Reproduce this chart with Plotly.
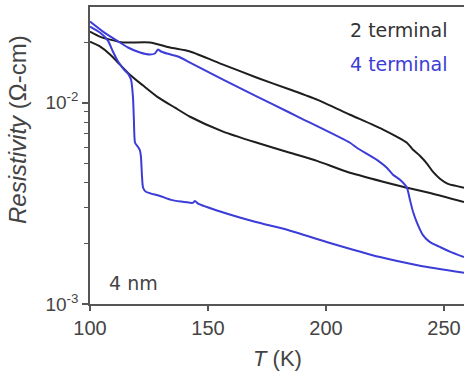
import plotly.graph_objects as go

# ---- data ----
T_2t_a = [100, 104.2, 108.5, 114.0, 125.4, 133.9, 142.4, 156.4, 170.8, 184.7, 196.2, 210.2,
          224.2, 234.3, 236.9, 239.8, 242.8, 245.3, 248.3, 251.7, 255.1, 258.5]
R_2t_a = [0.02254, 0.02128, 0.02056, 0.01991, 0.01991, 0.01879, 0.01795, 0.01545, 0.01330,
          0.01162, 0.01035, 0.00871, 0.00735, 0.00632, 0.00583, 0.00545, 0.00498, 0.00454,
          0.00419, 0.00395, 0.00386, 0.00378]

T_2t_b = [100, 104.2, 108.5, 112.7, 116.9, 122.5, 128.4, 136.0, 142.4, 156.4, 170.8, 184.7,
          196.2, 208.9, 224.2, 232.6, 244.1, 258.5]
R_2t_b = [0.02009, 0.01901, 0.01734, 0.01545, 0.01377, 0.01216, 0.01072, 0.00944, 0.00851,
          0.00718, 0.00632, 0.00564, 0.00514, 0.00454, 0.00405, 0.00382, 0.00356, 0.00321]

T_4t_a = [100, 105.5, 111.4, 116.1, 121.2, 125.4, 127.5, 128.8, 130.1, 132.6, 137.3, 142.4,
          156.4, 170.8, 184.7, 189.0, 210.2, 213.1, 221.6, 225.8, 228.4, 231.4, 234.3, 235.6,
          236.9, 238.6, 241.1, 244.1, 248.3, 252.5, 258.5]
R_4t_a = [0.02529, 0.02254, 0.02032, 0.01879, 0.01774, 0.01734, 0.01754, 0.01836, 0.01795,
          0.01754, 0.01694, 0.01581, 0.01300, 0.01072, 0.00891, 0.00841, 0.00632, 0.00597,
          0.00520, 0.00475, 0.00439, 0.00414, 0.00378, 0.00329, 0.00287, 0.00253, 0.00220,
          0.00203, 0.00192, 0.00182, 0.00171]

T_4t_b = [100, 104.2, 107.6, 109.7, 111.9, 114.4, 116.1, 117.4, 118.2, 118.6, 119.1, 120.3,
          121.2, 121.6, 122.0, 122.5, 123.7, 129.7, 134.3, 142.4, 143.6, 144.5, 145.8, 155.5,
          169.9, 183.9, 201.7, 222.9, 239.8, 258.5]
R_4t_b = [0.02388, 0.02229, 0.02032, 0.01795, 0.01600, 0.01459, 0.01393, 0.01300, 0.01072,
          0.00822, 0.00632, 0.00604, 0.00577, 0.00538, 0.00439, 0.00378, 0.00361, 0.00344,
          0.00329, 0.00318, 0.00318, 0.00325, 0.00315, 0.00287, 0.00256, 0.00233, 0.00201,
          0.00171, 0.00155, 0.00143]

x_ticks = [100, 150, 200, 250]
y_major = [1e-3, 1e-2]
y_major_text = ["10<sup>-3</sup>", "10<sup>-2</sup>"]
y_minor = [2e-3, 3e-3, 4e-3, 5e-3, 6e-3, 7e-3, 8e-3, 9e-3, 2e-2, 3e-2]

BLACK = "#1e1e1e"
BLUE = "#3c3cd8"
AX = "#555555"
TXT = "#444444"
SANS = "Liberation Sans, Arial, sans-serif"
LBL = "DejaVu Sans, sans-serif"

fig = go.Figure()
for T, R, c in [(T_2t_a, R_2t_a, BLACK), (T_2t_b, R_2t_b, BLACK),
                (T_4t_a, R_4t_a, BLUE), (T_4t_b, R_4t_b, BLUE)]:
    fig.add_trace(go.Scatter(x=T, y=R, mode="lines",
                             line=dict(color=c, width=2, shape="spline", smoothing=0.6),
                             showlegend=False, hoverinfo="skip"))

fig.update_layout(
    width=464, height=376,
    margin=dict(l=90, r=0, t=7, b=72),
    paper_bgcolor="white", plot_bgcolor="white",
    font=dict(family=SANS, color=TXT, size=20),
)
fig.update_xaxes(range=[100, 258.5], tickvals=x_ticks, ticks="outside", ticklen=5,
                 tickwidth=1.5, tickcolor=AX, showline=True, linecolor=AX, linewidth=1.5,
                 mirror=True, showgrid=False, zeroline=False,
                 tickfont=dict(size=20, color=TXT, family=SANS))
fig.update_yaxes(type="log", range=[-3, -1.525], tickvals=y_major, ticktext=y_major_text,
                 ticks="outside", ticklen=6, tickwidth=1.5, tickcolor=AX, showline=True,
                 linecolor=AX, linewidth=1.5, showgrid=False, zeroline=False,
                 tickfont=dict(size=19, color=TXT, family=SANS),
                 minor=dict(tickvals=y_minor, ticks="outside", ticklen=4, tickwidth=1.2,
                            tickcolor=AX, showgrid=False))

fig.add_annotation(text="<i>T</i> (K)", xref="paper", yref="paper", x=0.5, y=-0.185,
                   xanchor="center", yanchor="middle", showarrow=False,
                   font=dict(size=22, color=TXT, family=SANS))
fig.add_annotation(text="<i>Resistivity</i> (Ω-cm)", xref="paper", yref="paper",
                   x=-0.1925, y=0.586, xanchor="center", yanchor="middle", textangle=-90,
                   showarrow=False, font=dict(size=24, color=TXT, family=SANS))
fig.add_annotation(text="2 terminal", xref="paper", yref="paper", x=0.9626, y=0.9226,
                   xanchor="right", yanchor="middle", showarrow=False,
                   font=dict(size=19, color="#333333", family=LBL))
fig.add_annotation(text="4 terminal", xref="paper", yref="paper", x=0.9626, y=0.808,
                   xanchor="right", yanchor="middle", showarrow=False,
                   font=dict(size=19, color=BLUE, family=LBL))
fig.add_annotation(text="4 nm", xref="paper", yref="paper", x=0.1176, y=0.0707,
                   xanchor="center", yanchor="middle", showarrow=False,
                   font=dict(size=19, color="#444444", family=LBL))

fig.write_html("out.html")
